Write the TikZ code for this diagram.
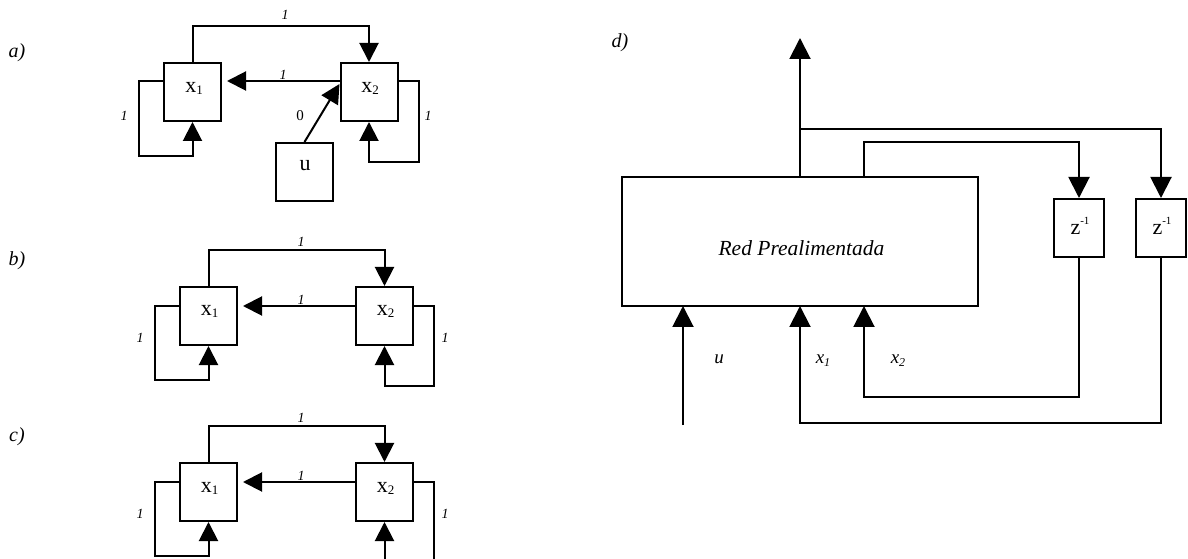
\documentclass[tikz,border=0pt]{standalone}
\usepackage{fontspec}
\setmainfont{Liberation Serif}
\usetikzlibrary{arrows.meta,calc}
\newcommand{\mysub}[1]{\raisebox{-2bp}{\fontsize{13bp}{13bp}\selectfont #1}}
\newcommand{\mysubi}[1]{\raisebox{-3bp}{\fontsize{12bp}{12bp}\selectfont\itshape #1}}
\newcommand{\mysup}[1]{\raisebox{10bp}{\fontsize{11bp}{11bp}\selectfont #1}}
\tikzset{
  ln/.style={line width=2bp},
  arr/.style={ln, -{Triangle[length=19bp,width=19bp]}},
  arrd/.style={ln, -{Triangle[length=21bp,width=21bp]}},
  box/.style={draw, ln, minimum width=57bp, minimum height=58bp, inner sep=0pt},
  zbox/.style={draw, ln, minimum width=50bp, minimum height=58bp, inner sep=0pt},
  netbox/.style={draw, ln, minimum width=356bp, minimum height=129bp, inner sep=0pt},
  one/.style={font=\fontsize{14bp}{16bp}\selectfont\itshape, inner sep=0pt},
  zero/.style={font=\fontsize{15bp}{17bp}\selectfont, inner sep=0pt},
  tag/.style={font=\fontsize{20bp}{22bp}\selectfont\itshape, inner sep=0pt},
  btxt/.style={font=\fontsize{22bp}{24bp}\selectfont, inner sep=0pt, anchor=base},
  itxt/.style={font=\fontsize{19bp}{21bp}\selectfont\itshape, inner sep=0pt, anchor=base},
}
\begin{document}
\begin{tikzpicture}[x=1bp,y=-1bp]
\useasboundingbox (0,0) rectangle (1188,559);
% ---------- a) ----------
\node[tag] (la) at (17,53) {a)};
\node[box] (a1) at (192.5,92) {};
\node[box] (a2) at (369,92) {};
\node[box] (au) at (304.5,172) {};
\node[btxt] (ta1) at (194,93) {x\mysub{1}};
\node[btxt] (ta2) at (370,93) {x\mysub{2}};
\node[btxt] (tau) at (305,171) {u};
\draw[arr] (a1.north) -- ++(0,-36) -| (a2.north);
\draw[arr, shorten >=5bp] ($(a2.west)+(0,-11)$) -- ($(a1.east)+(0,-11)$);
\draw[arr] ($(a1.west)+(0,-11)$) -- ++(-24,0) |- ($(a1.south)+(0,34)$) -- (a1.south);
\draw[arr] ($(a2.east)+(0,-11)$) -- ++(20,0) |- ($(a2.south)+(0,40)$) -- (a2.south);
\draw[arr] (au.north) -- ($(a2.west)+(0,-8)$);
\node[one] (oa1) at (285,15) {1};
\node[one] (oa2) at (283,75) {1};
\node[one] (oa3) at (124,116) {1};
\node[one] (oa4) at (428,116) {1};
\node[zero] (za) at (300,116) {0};
% ---------- b) and c) ----------
\foreach \n/\dy/\lab in {b/0/b), c/176/c)}{
  \node[tag] (l\n) at (17,261+\dy) {\lab};
  \node[box] (\n1) at (208.5,316+\dy) {};
  \node[box] (\n2) at (384.5,316+\dy) {};
  \node[btxt] (t\n1) at (209.5,316+\dy) {x\mysub{1}};
  \node[btxt] (t\n2) at (385.5,316+\dy) {x\mysub{2}};
  \draw[arr] (\n1.north) -- ++(0,-36) -| (\n2.north);
  \draw[arr, shorten >=5bp] ($(\n2.west)+(0,-10)$) -- ($(\n1.east)+(0,-10)$);
  \draw[arr] ($(\n1.west)+(0,-10)$) -- ++(-24,0) |- ($(\n1.south)+(0,34)$) -- (\n1.south);
  \draw[arr] ($(\n2.east)+(0,-10)$) -- ++(20,0) |- ($(\n2.south)+(0,40)$) -- (\n2.south);
  \node[one] (o\n1) at (301,242+\dy) {1};
  \node[one] (o\n2) at (301,300+\dy) {1};
  \node[one] (o\n3) at (140,338+\dy) {1};
  \node[one] (o\n4) at (445,338+\dy) {1};
}
% ---------- d) ----------
\node[tag] (ld) at (620,43) {d)};
\node[netbox] (net) at (800,241.5) {};
\node[font=\fontsize{21.5bp}{24bp}\selectfont\itshape, inner sep=0pt, anchor=base] (tnet) at (801.5,256) {Red Prealimentada};
\node[zbox] (z1) at (1079,228) {};
\node[zbox] (z2) at (1161,228) {};
\node[btxt] (tz1) at (1080,235) {z\mysup{-1}};
\node[btxt] (tz2) at (1162,235) {z\mysup{-1}};
\coordinate (out) at (800,38);
\coordinate (j1) at (800,129);
\coordinate (t2) at (864,177);
\coordinate (h2) at (864,142);
\coordinate (in0) at (683,306);
\coordinate (uin) at (683,425);
\coordinate (in1) at (800,306);
\coordinate (in2) at (864,306);
\coordinate (lowA) at (1079,397);
\coordinate (lowB) at (1161,423);
\draw[arrd] (net.north) -- (out);
\draw[arrd] (j1) -| (z2.north);
\draw[arrd] (t2) -- (h2) -| (z1.north);
\draw[arrd] (z1.south) -- (lowA) -| (in2);
\draw[arrd] (z2.south) -- (lowB) -| (in1);
\draw[arrd] (uin) -- (in0);
\node[itxt] (lu) at (719,364) {u};
\node[itxt] (lx1) at (823,364) {x\mysubi{1}};
\node[itxt] (lx2) at (898,364) {x\mysubi{2}};
\end{tikzpicture}
\end{document}
